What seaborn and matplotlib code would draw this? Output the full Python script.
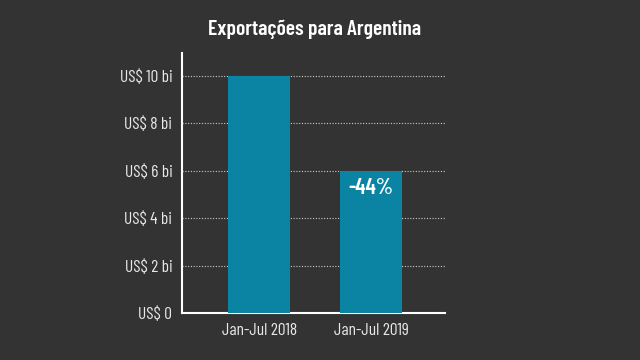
import matplotlib
matplotlib.use('Agg')
import matplotlib.pyplot as plt
import seaborn as sns
import pandas as pd

periodos = ['Jan-Jul 2018', 'Jan-Jul 2019']
valores = [10.0, 6.0]
variacao = '-44%'
ticks = [0, 2, 4, 6, 8, 10]
tick_labels = ['US$ 0', 'US$ 2 bi', 'US$ 4 bi', 'US$ 6 bi', 'US$ 8 bi', 'US$ 10 bi']

df = pd.DataFrame({'periodo': periodos, 'valor': valores})

sns.set_style('dark')
plt.rcParams['font.family'] = ['Barlow Condensed', 'DejaVu Sans']

fundo = '#333333'
fig = plt.figure(figsize=(6.4, 3.6), dpi=100, facecolor=fundo)
ax = fig.add_axes([182 / 640, 1 - 313 / 360, (445 - 182) / 640, (313 - 53) / 360])
ax.set_facecolor(fundo)

sns.barplot(data=df, x='periodo', y='valor', color='#0a84a2', saturation=1,
            width=0.55, ax=ax, zorder=3, edgecolor='none', linewidth=0)

ax.set_xlim(-0.69, 1.66)
ax.set_ylim(0, 10.95)
ax.set_yticks(ticks)
ax.set_yticklabels(tick_labels)
ax.set_xlabel('')
ax.set_ylabel('')
ax.tick_params(colors='#e8e8e8', labelsize=12.5, length=0, pad=7)

for y in ticks[1:]:
    ax.axhline(y, color='#cccccc', lw=0.8, ls=(0, (1, 1.5)), zorder=1)

for s in ['top', 'right']:
    ax.spines[s].set_visible(False)
for s in ['left', 'bottom']:
    ax.spines[s].set_color('white')
    ax.spines[s].set_linewidth(1.5)

ax.text(1, valores[1] - 0.33, variacao, ha='center', va='top', color='white',
        fontsize=16, fontweight=600, zorder=4)

fig.text(315 / 640, 1 - 29 / 360, 'Exportações para Argentina', ha='center',
         va='center', color='white', fontsize=15.5, fontweight=600)

fig.savefig('out.png', dpi=100, facecolor=fundo)
